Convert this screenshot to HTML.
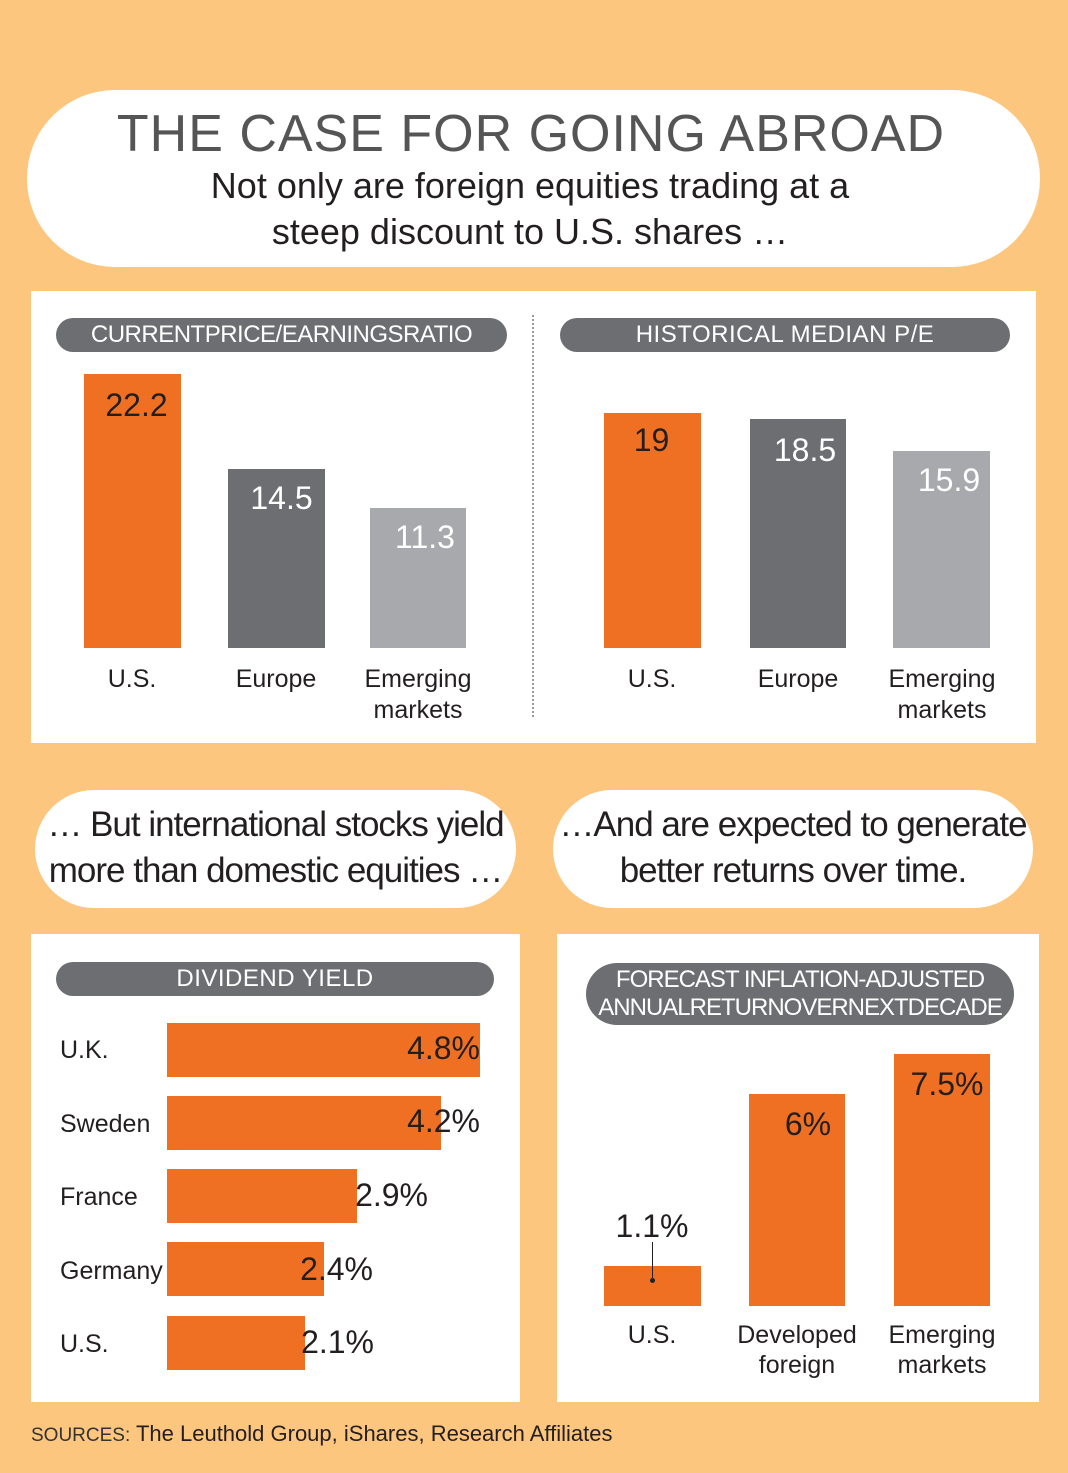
<!DOCTYPE html>
<html><head><meta charset="utf-8"><style>
*{margin:0;padding:0;box-sizing:border-box}
body{width:1068px;height:1473px;background:#fdc67f;position:relative;overflow:hidden;font-family:"Liberation Sans",Arial,sans-serif;color:#231f20}
.a{position:absolute}
.w{background:#fff}
.pill{position:absolute;background:#6d6e71;color:#fff;border-radius:20px;text-align:center;font-size:24px;letter-spacing:-0.5px}
.o{background:#f07023}.d{background:#6d6e71}.l{background:#a7a9ac}
.v{position:absolute;font-size:32px;text-align:center}
.lab{position:absolute;font-size:25px;text-align:center;line-height:31px;width:160px}
.big{position:absolute;background:#fff;border-radius:60px;text-align:center;font-size:35px;letter-spacing:-1px;line-height:46px}
.row{position:absolute;left:60px;font-size:25px}
.bar{position:absolute;left:167px;height:54px;background:#f07023}
.pv{position:absolute;font-size:32px;text-align:right}
</style></head><body>
<div class="a w" style="left:27px;top:90px;width:1013px;height:177px;border-radius:88px"></div>
<div class="a" style="left:0;width:1062px;top:104px;text-align:center;font-size:52px;color:#555;letter-spacing:1px">THE CASE FOR GOING ABROAD</div>
<div class="a" style="left:0;width:1060px;top:163px;text-align:center;font-size:36px;line-height:46px">Not only are foreign equities trading at a<br>steep discount to U.S. shares …</div>

<div class="a w" style="left:31px;top:291px;width:1005px;height:452px"></div>
<div class="a" style="left:532px;top:315px;height:402px;border-left:2px dotted #999"></div>
<div class="pill" style="left:56px;top:318px;width:451px;height:34px;line-height:34px">CURRENTPRICE/EARNINGSRATIO</div>
<div class="pill" style="left:560px;top:318px;width:450px;height:34px;line-height:34px;letter-spacing:0.5px">HISTORICAL MEDIAN P/E</div>
<div class="a o" style="left:84px;top:374px;width:97px;height:274px"></div>
<div class="a d" style="left:228px;top:469px;width:97px;height:179px"></div>
<div class="a l" style="left:370px;top:508px;width:96px;height:140px"></div>
<div class="v" style="left:84px;width:105px;top:387px">22.2</div>
<div class="v" style="left:228px;width:107px;top:480px;color:#fff">14.5</div>
<div class="v" style="left:370px;width:110px;top:519px;color:#fff">11.3</div>
<div class="lab" style="left:52px;top:664px">U.S.</div>
<div class="lab" style="left:196px;top:664px">Europe</div>
<div class="lab" style="left:338px;top:664px">Emerging<br>markets</div>
<div class="a o" style="left:604px;top:413px;width:97px;height:235px"></div>
<div class="a d" style="left:750px;top:419px;width:96px;height:229px"></div>
<div class="a l" style="left:893px;top:451px;width:97px;height:197px"></div>
<div class="v" style="left:604px;width:95px;top:422px">19</div>
<div class="v" style="left:750px;width:110px;top:432px;color:#fff">18.5</div>
<div class="v" style="left:893px;width:112px;top:462px;color:#fff">15.9</div>
<div class="lab" style="left:572px;top:664px">U.S.</div>
<div class="lab" style="left:718px;top:664px">Europe</div>
<div class="lab" style="left:862px;top:664px">Emerging<br>markets</div>

<div class="big" style="left:35px;top:790px;width:481px;height:118px;padding-top:12px">… But international stocks yield<br>more than domestic equities …</div>
<div class="big" style="left:553px;top:790px;width:480px;height:118px;padding-top:12px">…And are expected to generate<br>better returns over time.</div>

<div class="a w" style="left:31px;top:934px;width:489px;height:468px"></div>
<div class="pill" style="left:56px;top:962px;width:438px;height:34px;line-height:34px;letter-spacing:0.5px">DIVIDEND YIELD</div>
<div class="row" style="top:1036px">U.K.</div>
<div class="row" style="top:1110px">Sweden</div>
<div class="row" style="top:1183px">France</div>
<div class="row" style="top:1257px">Germany</div>
<div class="row" style="top:1330px">U.S.</div>
<div class="bar" style="top:1023px;width:313px"></div>
<div class="bar" style="top:1096px;width:274px"></div>
<div class="bar" style="top:1169px;width:190px"></div>
<div class="bar" style="top:1242px;width:157px"></div>
<div class="bar" style="top:1316px;width:138px"></div>
<div class="pv" style="left:380px;width:100px;top:1030px">4.8%</div>
<div class="pv" style="left:380px;width:100px;top:1103px">4.2%</div>
<div class="pv" style="left:328px;width:100px;top:1177px">2.9%</div>
<div class="pv" style="left:273px;width:100px;top:1251px">2.4%</div>
<div class="pv" style="left:274px;width:100px;top:1324px">2.1%</div>

<div class="a w" style="left:557px;top:934px;width:482px;height:468px"></div>
<div class="pill" style="left:586px;top:963px;width:428px;height:62px;line-height:28px;padding-top:3px;border-radius:31px;letter-spacing:-1px">FORECAST INFLATION-ADJUSTED<br>ANNUALRETURNOVERNEXTDECADE</div>
<div class="a o" style="left:604px;top:1266px;width:97px;height:40px"></div>
<div class="a o" style="left:749px;top:1094px;width:96px;height:212px"></div>
<div class="a o" style="left:894px;top:1054px;width:96px;height:252px"></div>
<div class="a" style="left:652px;top:1242px;height:38px;border-left:1px solid #222"></div>
<div class="a" style="left:650px;top:1278px;width:5px;height:5px;border-radius:3px;background:#222"></div>
<div class="v" style="left:592px;width:120px;top:1208px">1.1%</div>
<div class="v" style="left:760px;width:96px;top:1106px">6%</div>
<div class="v" style="left:894px;width:106px;top:1066px">7.5%</div>
<div class="lab" style="left:572px;top:1320px">U.S.</div>
<div class="lab" style="left:717px;top:1320px;line-height:30px">Developed<br>foreign</div>
<div class="lab" style="left:862px;top:1320px;line-height:30px">Emerging<br>markets</div>

<div class="a" style="left:31px;top:1421px;font-size:22px"><span style="font-size:19px;color:#333">SOURCES:</span> The Leuthold Group, iShares, Research Affiliates</div>
</body></html>
